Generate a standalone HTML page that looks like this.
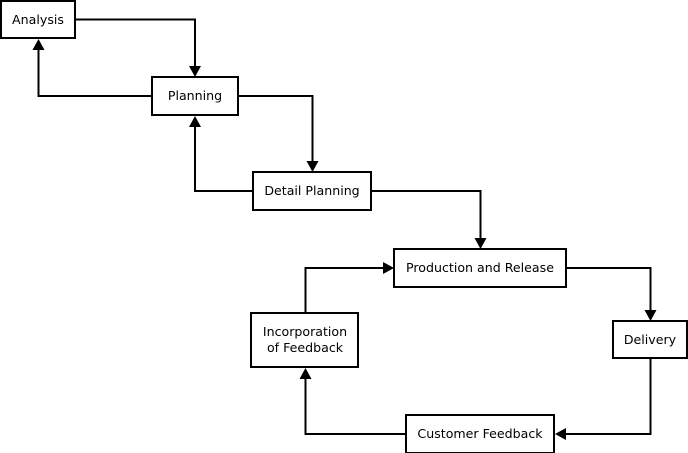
<!DOCTYPE html>
<html><head><style>html,body{margin:0;padding:0;background:#fff}svg{display:block}</style></head><body>
<svg width="688" height="453" viewBox="0 0 688 453" xmlns="http://www.w3.org/2000/svg" font-family="DejaVu Sans, sans-serif" font-size="12.6">
<g fill="#fff" stroke="#000" stroke-width="2">
<rect x="1" y="1" width="74" height="37"/>
<rect x="152" y="77" width="86" height="38"/>
<rect x="253" y="172" width="118" height="38"/>
<rect x="394" y="249" width="172" height="38"/>
<rect x="613" y="321" width="74" height="37"/>
<rect x="251" y="313" width="107" height="54"/>
<rect x="406" y="415" width="148" height="38"/>
</g>
<g fill="none" stroke="#000" stroke-width="2">
<path d="M75 19.5H195V66"/>
<path d="M152 96H38.5V50"/>
<path d="M238 96H312.5V161"/>
<path d="M253 191H195V127"/>
<path d="M371 191H480.5V238"/>
<path d="M566 268H650.5V310"/>
<path d="M650.5 358V434H566"/>
<path d="M406 434H305.5V379"/>
<path d="M305.5 313V268H383"/>
</g>
<g fill="#000">
<path d="M189 66H201L195 77Z"/>
<path d="M32.5 50H44.5L38.5 39Z"/>
<path d="M306.5 161H318.5L312.5 172Z"/>
<path d="M189 127H201L195 116Z"/>
<path d="M474.5 238H486.5L480.5 249Z"/>
<path d="M644.5 310H656.5L650.5 321Z"/>
<path d="M566 428V440L555 434Z"/>
<path d="M299.5 379H311.5L305.5 368Z"/>
<path d="M383 262V274L394 268Z"/>
</g>
<g text-anchor="middle" fill="#000">
<text x="38" y="24">Analysis</text>
<text x="195" y="100">Planning</text>
<text x="312" y="195">Detail Planning</text>
<text x="480" y="272">Production and Release</text>
<text x="650" y="344">Delivery</text>
<text x="305" y="336">Incorporation</text>
<text x="305" y="352">of Feedback</text>
<text x="480" y="438">Customer Feedback</text>
</g>
</svg>
</body></html>
